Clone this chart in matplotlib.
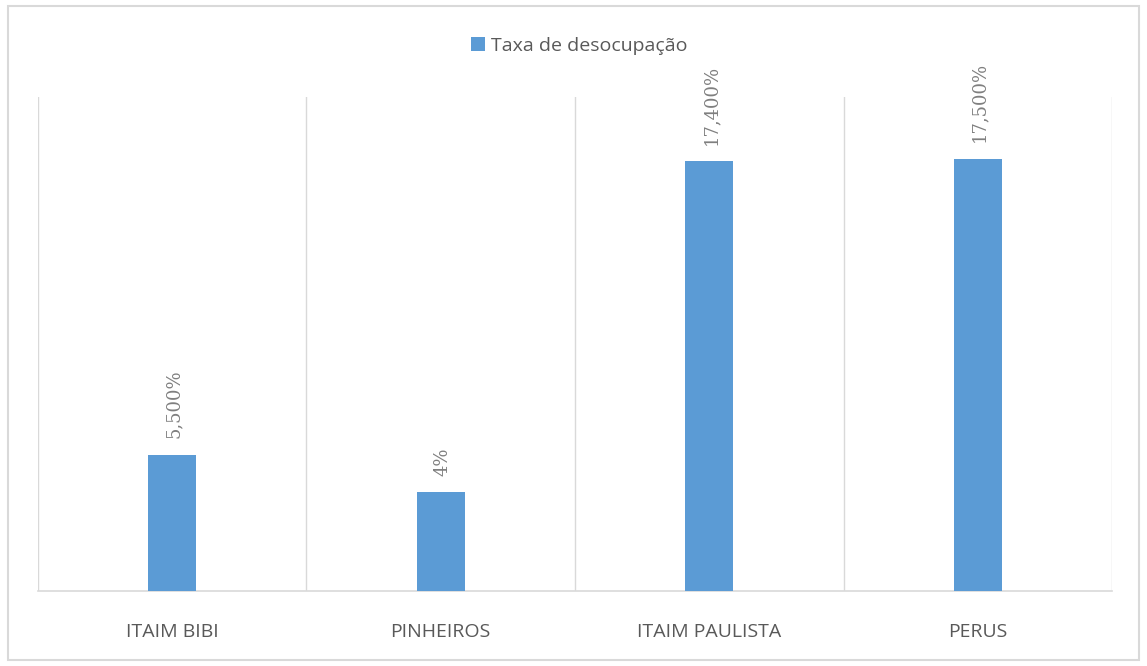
import matplotlib.pyplot as plt
from matplotlib.patches import Rectangle

# unemployment rate by district
bairros = ['ITAIM BIBI', 'PINHEIROS', 'ITAIM PAULISTA', 'PERUS']
taxa = [5.5, 4, 17.4, 17.5]
rotulos = ['5,500%', '4%', '17,400%', '17,500%']
serie = 'Taxa de desocupação'

azul = '#5B9BD5'
cinza_grade = '#D9D9D9'
cinza_texto = '#595959'

fig = plt.figure(figsize=(11.47, 6.66), dpi=100)
ax = fig.add_axes([0.0331, 0.1126, 0.9364, 0.7418])

x = list(range(len(bairros)))
barras = ax.bar(x, taxa, width=0.18, color=azul, label=serie, zorder=3)

for b, txt in zip(barras, rotulos):
    ax.annotate(txt, (b.get_x() + b.get_width() / 2, b.get_height()),
                xytext=(1, 12), textcoords='offset points',
                rotation=90, ha='center', va='bottom',
                fontsize=13, color='#7F7F7F', family='DejaVu Serif')

ax.set_xlim(-0.5, len(bairros) - 0.5)
ax.set_ylim(0, 20)

# vertical separators between categories
for i in range(len(bairros) + 1):
    ax.axvline(i - 0.5, color=cinza_grade, lw=1, zorder=1)

for s in ['top', 'right', 'left']:
    ax.spines[s].set_visible(False)
ax.spines['bottom'].set_color(cinza_grade)
ax.spines['bottom'].set_linewidth(1.2)

ax.set_yticks([])
ax.set_xticks(x)
ax.set_xticklabels(bairros, fontsize=14, color=cinza_texto, family='Open Sans')
ax.tick_params(axis='x', length=0, pad=23)

leg = fig.legend(handles=[barras], labels=[serie], loc='center',
                 bbox_to_anchor=(0.505, 0.931), frameon=False,
                 handlelength=0.7, handleheight=0.7, handletextpad=0.3,
                 prop={'family': 'Open Sans', 'size': 14})
for t in leg.get_texts():
    t.set_color(cinza_texto)

# outer chart frame
fig.patches.append(Rectangle((8 / 1147, 6 / 666), 1131 / 1147, 654 / 666,
                             transform=fig.transFigure, fill=False,
                             edgecolor=cinza_grade, lw=1.5))

fig.savefig('out.png', dpi=100)
